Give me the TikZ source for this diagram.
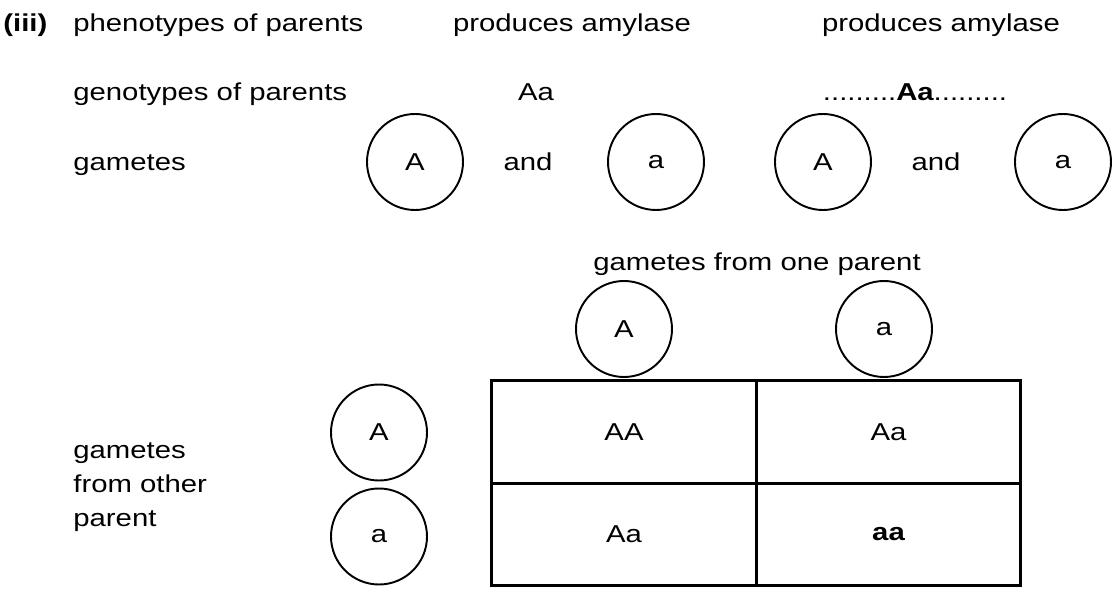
\documentclass[tikz,border=0pt]{standalone}
\usepackage{fontspec}
\setmainfont[FakeStretch=1.2]{Liberation Sans}
\usetikzlibrary{positioning}

\begin{document}
\begin{tikzpicture}[
  font=\fontsize{13.9}{19.6}\selectfont,
  gamete/.style={draw,circle,line width=1.1pt,minimum size=1.92cm,inner sep=0pt},
  cell/.style={draw,line width=1.5pt,minimum width=5.29cm,minimum height=2.05cm,inner sep=0pt},
  lbl/.style={anchor=base west,inner sep=0pt}]
  \useasboundingbox (0,0) rectangle (22.24,11.92);
  % first two rows
  \node[lbl] (item) at (0.06,11.29) {\bfseries (iii)};
  \node[lbl] (pheno) at (1.46,11.29) {phenotypes of parents};
  \node[anchor=base,inner sep=0pt] (phenoA) at (11.44,11.29) {produces amylase};
  \node[anchor=base,inner sep=0pt] (phenoB) at (18.82,11.29) {produces amylase};
  \node[lbl] (geno) at (1.46,9.90) {genotypes of parents};
  \node[anchor=base,inner sep=0pt] (genoA) at (10.72,9.90) {Aa};
  \node[anchor=base,inner sep=0pt] (genoB) at (18.30,9.90) {.........\textbf{Aa}.........};
  % gametes
  \node[lbl] (gam) at (1.46,8.50) {gametes};
  \node[gamete] (gA1) at (8.30,8.68) {A};
  \node[anchor=base] (and1) at (10.56,8.50) {and};
  \node[gamete] (ga1) at (13.12,8.68) {a};
  \node[gamete] (gA2) at (16.46,8.68) {A};
  \node[anchor=base] (and2) at (18.72,8.50) {and};
  \node[gamete] (ga2) at (21.26,8.68) {a};
  % punnett square
  \node[cell] (AA) at (12.48,3.28) {AA};
  \node[cell] (Aa1) at (17.77,3.28) {Aa};
  \node[cell] (Aa2) at (12.48,1.23) {Aa};
  \node[cell] (aa) at (17.77,1.23) {\bfseries aa};
  \node[anchor=base] (one) at (15.14,6.50) {gametes from one parent};
  \node[gamete] (topA) at (12.48,5.34) {A};
  \node[gamete] (topa) at (17.68,5.34) {a};
  \node[gamete] (sideA) at (7.58,3.27) {A};
  \node[gamete] (sidea) at (7.58,1.19) {a};
  \node[lbl,align=left] (other) at (1.46,1.38) {gametes\\from other\\parent};
\end{tikzpicture}
\end{document}
